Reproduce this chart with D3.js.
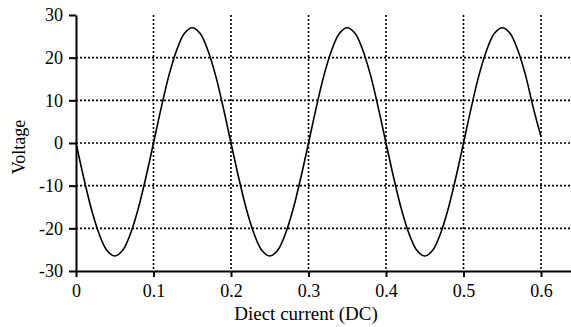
<!DOCTYPE html>
<html lang="en">
<head>
<meta charset="UTF-8">
<title>Voltage vs DC</title>
<script src="https://cdn.jsdelivr.net/npm/d3@7/dist/d3.min.js"></script>
<style>
  body { margin: 0; background: #fff; }
  text { font-family: "Liberation Serif", "Times New Roman", serif; }
</style>
</head>
<body>
<svg width="571" height="327"></svg>
<script>
var xs = [0, 0.01, 0.02, 0.03, 0.04, 0.05, 0.06, 0.07, 0.08, 0.09,
          0.10, 0.11, 0.12, 0.13, 0.14, 0.15, 0.16, 0.17, 0.18, 0.19,
          0.20, 0.21, 0.22, 0.23, 0.24, 0.25, 0.26, 0.27, 0.28, 0.29,
          0.30, 0.31, 0.32, 0.33, 0.34, 0.35, 0.36, 0.37, 0.38, 0.39,
          0.40, 0.41, 0.42, 0.43, 0.44, 0.45, 0.46, 0.47, 0.48, 0.49,
          0.50, 0.51, 0.52, 0.53, 0.54, 0.55, 0.56, 0.57, 0.58, 0.59, 0.60];
var volts = [0, -8.2, -15.6, -21.4, -25.2, -26.5, -25.2, -21.4, -15.6, -8.2,
             0, 8.3, 15.9, 21.8, 25.7, 27, 25.7, 21.8, 15.9, 8.3,
             0, -8.2, -15.6, -21.4, -25.2, -26.5, -25.2, -21.4, -15.6, -8.2,
             0, 8.3, 15.9, 21.8, 25.7, 27, 25.7, 21.8, 15.9, 8.3,
             0, -8.2, -15.6, -21.4, -25.2, -26.5, -25.2, -21.4, -15.6, -8.2,
             0, 8.3, 15.9, 21.8, 25.7, 27, 25.7, 21.8, 15.9, 8.3, 1.5];
var xTicks = [0, 0.1, 0.2, 0.3, 0.4, 0.5, 0.6];
var yTicks = [-30, -20, -10, 0, 10, 20, 30];
var xGrid = [0.1, 0.2, 0.3, 0.4, 0.5, 0.6];
var yGrid = [-20, -10, 0, 10, 20];

var svg = d3.select("svg");

var x = d3.scaleLinear().domain([0, 0.64]).range([76, 572]);
var y = d3.scaleLinear().domain([-30, 30]).range([271, 15]);

// grid
var grid = svg.append("g")
    .attr("stroke", "#000")
    .attr("stroke-width", 1.6)
    .attr("stroke-dasharray", "2,2");
grid.selectAll(".vg").data(xGrid).enter().append("line")
    .attr("x1", function(d) { return x(d); })
    .attr("x2", function(d) { return x(d); })
    .attr("y1", y(30))
    .attr("y2", y(-30));
grid.selectAll(".hg").data(yGrid).enter().append("line")
    .attr("x1", x(0))
    .attr("x2", 571)
    .attr("y1", function(d) { return y(d); })
    .attr("y2", function(d) { return y(d); });

// curve
var pts = xs.map(function(d, i) { return [d, volts[i]]; });
svg.append("path")
    .datum(pts)
    .attr("fill", "none")
    .attr("stroke", "#000")
    .attr("stroke-width", 1.6)
    .attr("d", d3.line()
        .x(function(d) { return x(d[0]); })
        .y(function(d) { return y(d[1]); })
        .curve(d3.curveCatmullRom));

// axes
var xAxis = svg.append("g")
    .attr("transform", "translate(0," + y(-30) + ")")
    .call(d3.axisBottom(x).tickValues(xTicks).tickSize(6).tickSizeOuter(0)
        .tickFormat(function(d) { return d === 0 ? "0" : d3.format(".1f")(d); }));
var yAxis = svg.append("g")
    .attr("transform", "translate(" + x(0) + ",0)")
    .call(d3.axisLeft(y).tickValues(yTicks).tickSize(7).tickSizeOuter(0).tickPadding(6)
        .tickFormat(function(d) { return String(d); }));

[xAxis, yAxis].forEach(function(a) {
    a.attr("font-family", null).attr("font-size", null);
    a.select(".domain").attr("stroke", "#000").attr("stroke-width", 2);
    a.selectAll(".tick line").attr("stroke", "#000").attr("stroke-width", 2);
    a.selectAll(".tick text").attr("fill", "#000")
        .style("font-size", "18px");
});
xAxis.selectAll(".tick text").attr("dy", "0.95em");

svg.append("text")
    .attr("x", 306)
    .attr("y", 320)
    .attr("text-anchor", "middle")
    .style("font-size", "19px")
    .text("Diect current (DC)");

svg.append("text")
    .attr("transform", "translate(25,147) rotate(-90)")
    .attr("text-anchor", "middle")
    .style("font-size", "18px")
    .text("Voltage");
</script>
</body>
</html>
